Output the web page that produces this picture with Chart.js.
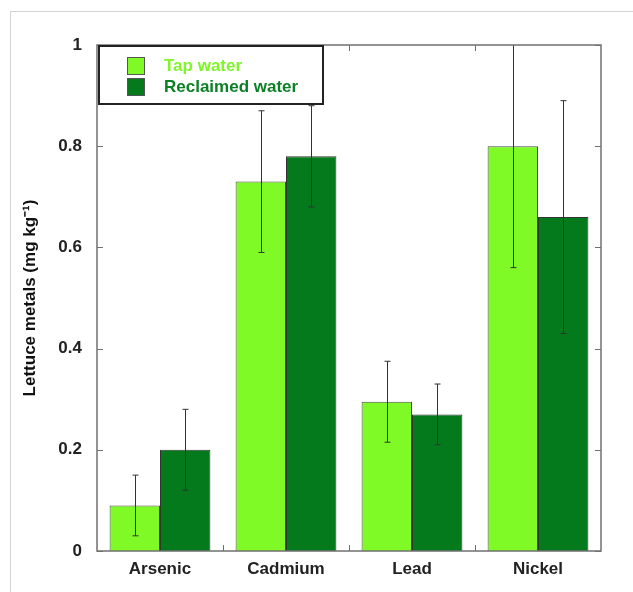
<!DOCTYPE html>
<html>
<head>
<meta charset="utf-8">
<script src="https://cdn.jsdelivr.net/npm/chart.js@4"></script>
<style>
  body { margin: 0; background: #fff; }
  #wrap { position: relative; width: 633px; height: 592px; }
  #frame { position: absolute; left: 10px; top: 11px; width: 640px; height: 600px;
           border-left: 1px solid #d4d4d4; border-top: 1px solid #d4d4d4; }
  canvas { position: absolute; left: 0; top: 0; }
</style>
</head>
<body>
<div id="wrap">
  <div id="frame"></div>
  <canvas id="metalsChart" width="633" height="592"></canvas>
</div>
<script>
const categories = ['Arsenic', 'Cadmium', 'Lead', 'Nickel'];
const tapWater = [0.09, 0.73, 0.295, 0.80];
const tapErr = [0.06, 0.14, 0.08, 0.24];
const reclaimedWater = [0.20, 0.78, 0.27, 0.66];
const reclaimedErr = [0.08, 0.10, 0.06, 0.23];
const yTicks = [0, 0.2, 0.4, 0.6, 0.8, 1];

const FONT = 'Liberation Sans, Arial, sans-serif';

// error bars, frame and inward tick marks
const extras = {
  id: 'extras',
  afterDatasetsDraw(chart) {
    const { ctx, chartArea: a, scales: { x, y } } = chart;
    const errs = [tapErr, reclaimedErr];

    ctx.save();
    ctx.beginPath();
    ctx.rect(a.left, a.top, a.right - a.left, a.bottom - a.top);
    ctx.clip();
    ctx.strokeStyle = '#333';
    ctx.lineWidth = 1;
    chart.data.datasets.forEach((ds, i) => {
      chart.getDatasetMeta(i).data.forEach((bar, j) => {
        const v = ds.data[j], e = errs[i][j];
        const yHi = y.getPixelForValue(v + e);
        const yLo = y.getPixelForValue(v - e);
        const cx = Math.round(bar.x) + 0.5;
        ctx.beginPath();
        ctx.moveTo(cx, yHi); ctx.lineTo(cx, yLo);
        ctx.moveTo(cx - 3, yHi); ctx.lineTo(cx + 3, yHi);
        ctx.moveTo(cx - 3, yLo); ctx.lineTo(cx + 3, yLo);
        ctx.stroke();
      });
    });
    ctx.restore();

    ctx.save();
    ctx.strokeStyle = '#707070';
    ctx.lineWidth = 1.5;
    ctx.strokeRect(a.left, a.top, a.right - a.left, a.bottom - a.top);
    ctx.lineWidth = 1;
    ctx.beginPath();
    yTicks.forEach(t => {
      const py = Math.round(y.getPixelForValue(t)) + 0.5;
      ctx.moveTo(a.left, py); ctx.lineTo(a.left + 6, py);
      ctx.moveTo(a.right, py); ctx.lineTo(a.right - 6, py);
    });
    const step = (a.right - a.left) / categories.length;
    for (let k = 1; k < categories.length; k++) {
      const px = Math.round(a.left + step * k) + 0.5;
      ctx.moveTo(px, a.bottom); ctx.lineTo(px, a.bottom - 6);
      ctx.moveTo(px, a.top); ctx.lineTo(px, a.top + 6);
    }
    ctx.stroke();
    ctx.restore();
  },
  afterDraw(chart) {
    // legend box in upper left corner of the plot
    const { ctx, chartArea: a } = chart;
    const bx = a.left + 2, by = a.top + 1, bw = 224, bh = 58;
    ctx.save();
    ctx.fillStyle = '#fff';
    ctx.fillRect(bx, by, bw, bh);
    ctx.strokeStyle = '#222';
    ctx.lineWidth = 2;
    ctx.strokeRect(bx, by, bw, bh);
    ctx.font = 'bold 17px ' + FONT;
    ctx.textBaseline = 'middle';
    chart.data.datasets.forEach((ds, i) => {
      const sy = by + 11 + i * 21;
      ctx.fillStyle = ds.backgroundColor;
      ctx.fillRect(bx + 28, sy, 18, 18);
      ctx.strokeStyle = '#555';
      ctx.lineWidth = 1;
      ctx.strokeRect(bx + 28.5, sy + 0.5, 17, 17);
      ctx.fillStyle = ds.legendText;
      ctx.fillText(ds.label, bx + 65, sy + 9);
    });
    ctx.restore();
  }
};

const ctx = document.getElementById('metalsChart').getContext('2d');

new Chart(ctx, {
  type: 'bar',
  data: {
    labels: categories,
    datasets: [
      {
        label: 'Tap water',
        data: tapWater,
        backgroundColor: '#80fa26',
        legendText: '#7ff52a',
        borderColor: '#4a4a4a',
        borderWidth: 1,
        barPercentage: 1,
        categoryPercentage: 0.8
      },
      {
        label: 'Reclaimed water',
        data: reclaimedWater,
        backgroundColor: '#047a1c',
        legendText: '#0b8025',
        borderColor: '#333',
        borderWidth: 1,
        barPercentage: 1,
        categoryPercentage: 0.8
      }
    ]
  },
  options: {
    responsive: false,
    animation: false,
    layout: { padding: { left: 0, top: 45, right: 32, bottom: 0 } },
    plugins: {
      legend: { display: false },
      tooltip: { enabled: false }
    },
    scales: {
      x: {
        grid: { display: false, drawTicks: false },
        border: { display: false },
        ticks: {
          color: '#222',
          padding: 8,
          font: { family: FONT, size: 17, weight: 'bold' }
        },
        afterFit: (s) => { s.height = 41; }
      },
      y: {
        min: 0,
        max: 1,
        grid: { display: false, drawTicks: false },
        border: { display: false },
        afterBuildTicks: (s) => { s.ticks = yTicks.map(v => ({ value: v })); },
        ticks: {
          color: '#222',
          padding: 15,
          font: { family: FONT, size: 17, weight: 'bold' },
          callback: (v) => String(v)
        },
        title: {
          display: true,
          text: 'Lettuce metals (mg kg⁻¹)',
          color: '#111',
          padding: { top: 20, bottom: 0 },
          font: { family: FONT, size: 17, weight: 'bold' }
        },
        afterFit: (s) => { s.width = 97; }
      }
    }
  },
  plugins: [extras]
});
</script>
</body>
</html>
